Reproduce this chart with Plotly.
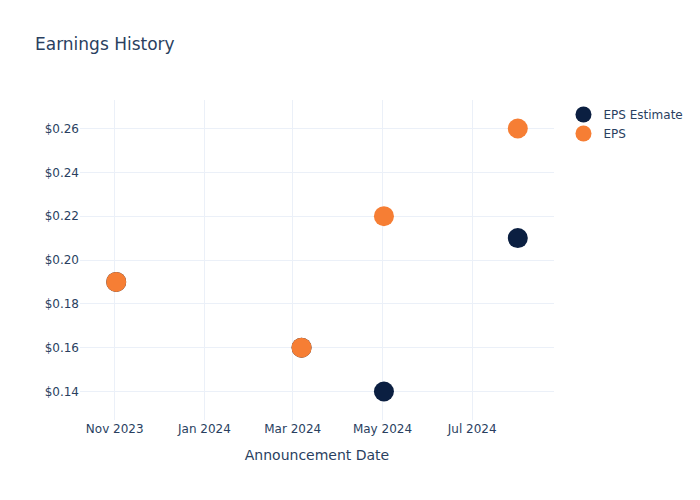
import plotly.graph_objects as go

dates = ["2023-11-02", "2024-03-07", "2024-05-02", "2024-08-01"]
eps_estimate = [0.19, 0.16, 0.14, 0.21]
eps_actual = [0.19, 0.16, 0.22, 0.26]

fig = go.Figure()
fig.add_trace(go.Scatter(x=dates, y=eps_estimate, mode="markers", name="EPS Estimate",
                         marker=dict(color="#0b1f41", size=20)))
fig.add_trace(go.Scatter(x=dates, y=eps_actual, mode="markers", name="EPS",
                         marker=dict(color="#f67e34", size=20)))
fig.update_layout(
    template="plotly_white",
    width=700, height=500,
    font=dict(family="DejaVu Sans"),
    title=dict(text="Earnings History"),
    xaxis=dict(title="Announcement Date"),
    yaxis=dict(tickprefix="$", tickformat=".2f"),
)
fig.write_html("out.html")
